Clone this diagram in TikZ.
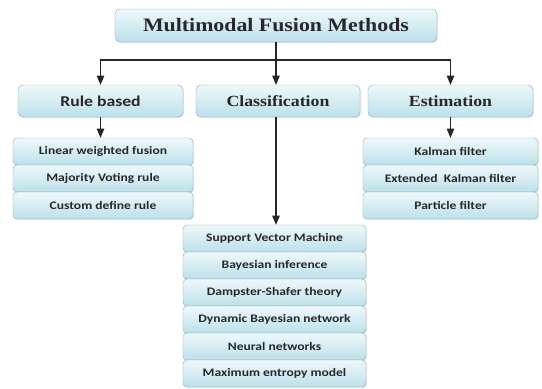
\documentclass[tikz,border=0pt]{standalone}
\usepackage{fontspec}
\setmainfont{Liberation Serif}
\newfontfamily\headfont[FakeStretch=1.15]{Liberation Serif}
\newfontfamily\boxfont[FakeStretch=1.18]{Carlito}
\usepackage{xcolor}
\usetikzlibrary{shapes,arrows,positioning,calc,fit,shadows}
\definecolor{boxedge}{RGB}{128,172,190}
\definecolor{boxtop}{RGB}{238,248,250}
\definecolor{boxbot}{RGB}{188,224,234}
\definecolor{inkgray}{RGB}{40,40,40}

\begin{document}
\begin{tikzpicture}[
        x=1pt, y=-1pt,
        >=triangle 45,
        every node/.style={text=inkgray},
        fbox/.style={draw=boxedge, rounded corners=5pt, top color=boxtop, bottom color=boxbot,
            drop shadow={opacity=0.2, shadow xshift=1pt, shadow yshift=-1pt}, inner sep=0pt},
        headbox/.style={fbox, minimum width=165pt, minimum height=32pt},
        subbox/.style={fbox, rounded corners=4pt, minimum height=27pt,
            font=\boxfont\bfseries\fontsize{11.5}{13}\selectfont},
        link/.style={->, line width=1.1pt, draw=black!85},
    ]
        \useasboundingbox (0,0) rectangle (542,389);

        \node[fbox, minimum width=322pt, minimum height=33pt, font=\headfont\bfseries\fontsize{19}{22}\selectfont]
            (fusion) at (276,25.5) {Multimodal Fusion Methods};

        \node[headbox, font=\boxfont\bfseries\fontsize{15}{17}\selectfont] (rule) at (100.5,101) {Rule based};
        \node[headbox, minimum width=164pt, font=\headfont\bfseries\fontsize{15.5}{18}\selectfont] (cls) at (278,101) {Classification};
        \node[headbox, font=\headfont\bfseries\fontsize{15.5}{18}\selectfont] (est) at (450.5,101) {Estimation};

        % rule based methods
        \node[subbox, minimum width=180pt] (lin) at (103,151.5) {Linear weighted fusion};
        \node[subbox, minimum width=180pt] (vote) at (103,178.5) {Majority Voting rule};
        \node[subbox, minimum width=180pt] (custom) at (103,205.5) {Custom define rule};

        % classification methods
        \node[subbox, minimum width=183pt] (svm) at (274.5,238.5) {Support Vector Machine};
        \node[subbox, minimum width=183pt] (bayes) at (274.5,265.5) {Bayesian inference};
        \node[subbox, minimum width=183pt] (ds) at (274.5,292.5) {Dampster-Shafer theory};
        \node[subbox, minimum width=183pt] (dbn) at (274.5,319.5) {Dynamic Bayesian network};
        \node[subbox, minimum width=183pt] (nn) at (274.5,346.5) {Neural networks};
        \node[subbox, minimum width=183pt] (maxent) at (274.5,373.5) {Maximum entropy model};

        % estimation methods
        \node[subbox, minimum width=175pt] (kal) at (450.5,151.5) {Kalman filter};
        \node[subbox, minimum width=175pt] (ekf) at (450.5,178.5) {Extended~ Kalman filter};
        \node[subbox, minimum width=175pt] (pf) at (450.5,205.5) {Particle filter};

        \coordinate (bus) at (fusion.south |- 0,60);
        \draw[line width=1.1pt, draw=black!85] (fusion) -- (bus);
        \draw[link] (bus) -| (rule);
        \draw[link] (bus) -| (est);
        \draw[link] (bus) -- (bus |- cls.north);
        \draw[link] (rule) -- (rule |- lin.north);
        \draw[link] (est) -- (est |- kal.north);
        \draw[link] (cls.south -| bus) -- (bus |- svm.north);
    \end{tikzpicture}
\end{document}
